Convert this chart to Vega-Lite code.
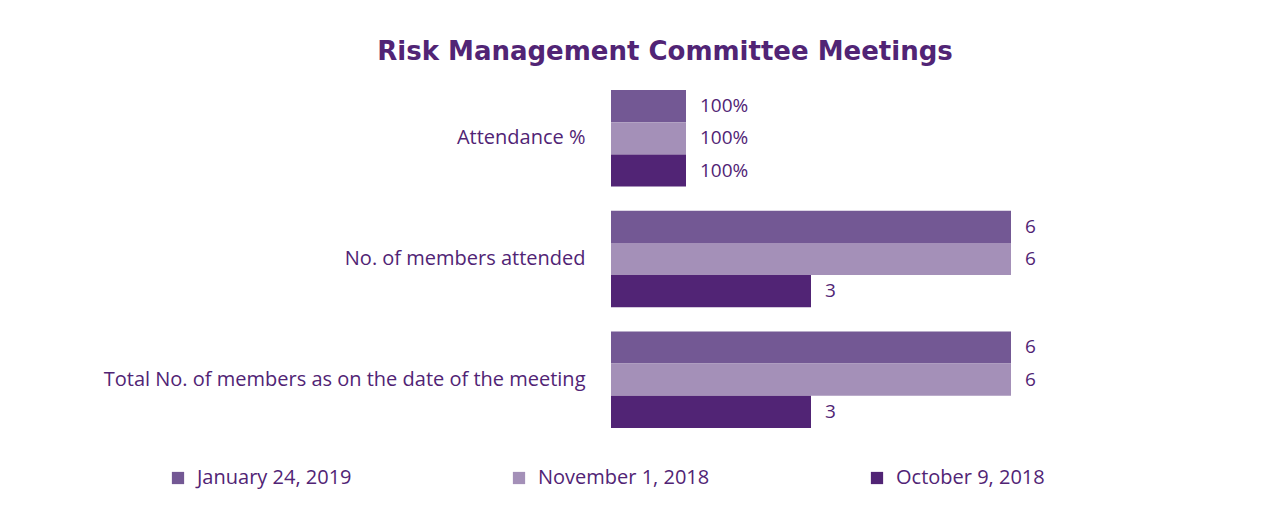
{
  "$schema": "https://vega.github.io/schema/vega-lite/v6.json",
  "autosize": {"type": "none"},
  "width": 400,
  "height": 362,
  "padding": {"left": 611, "top": 78, "right": 264, "bottom": 73},
  "background": "white",
  "title": {
    "text": "Risk Management Committee Meetings",
    "font": "DejaVu Sans",
    "fontSize": 26,
    "fontWeight": "bold",
    "color": "#512475",
    "anchor": "middle",
    "frame": "group",
    "dx": -146,
    "offset": 13
  },
  "data": {
    "values": [
      {"category": "Attendance %", "date": "January 24, 2019", "value": 1.125, "label": "100%"},
      {"category": "Attendance %", "date": "November 1, 2018", "value": 1.125, "label": "100%"},
      {"category": "Attendance %", "date": "October 9, 2018", "value": 1.125, "label": "100%"},
      {"category": "No. of members attended", "date": "January 24, 2019", "value": 6, "label": "6"},
      {"category": "No. of members attended", "date": "November 1, 2018", "value": 6, "label": "6"},
      {"category": "No. of members attended", "date": "October 9, 2018", "value": 3, "label": "3"},
      {"category": "Total No. of members as on the date of the meeting", "date": "January 24, 2019", "value": 6, "label": "6"},
      {"category": "Total No. of members as on the date of the meeting", "date": "November 1, 2018", "value": 6, "label": "6"},
      {"category": "Total No. of members as on the date of the meeting", "date": "October 9, 2018", "value": 3, "label": "3"}
    ]
  },
  "encoding": {
    "y": {
      "field": "category",
      "type": "nominal",
      "sort": ["Attendance %", "No. of members attended", "Total No. of members as on the date of the meeting"],
      "scale": {"paddingInner": 0.2, "paddingOuter": 0.1},
      "axis": {
        "title": null,
        "ticks": false,
        "domain": false,
        "labelPadding": 26,
        "labelFont": "Open Sans",
        "labelFontSize": 20,
        "labelColor": "#512475",
        "labelLimit": 700
      }
    },
    "yOffset": {
      "field": "date",
      "type": "nominal",
      "sort": ["January 24, 2019", "November 1, 2018", "October 9, 2018"]
    },
    "x": {
      "field": "value",
      "type": "quantitative",
      "scale": {"domain": [0, 6], "nice": false},
      "axis": null
    }
  },
  "layer": [
    {
      "mark": {"type": "bar"},
      "encoding": {
        "color": {
          "field": "date",
          "type": "nominal",
          "sort": ["January 24, 2019", "November 1, 2018", "October 9, 2018"],
          "scale": {
            "domain": ["January 24, 2019", "November 1, 2018", "October 9, 2018"],
            "range": ["#735894", "#a490b8", "#512475"]
          },
          "legend": {
            "title": null,
            "orient": "none",
            "direction": "horizontal",
            "columns": 3,
            "legendX": -443,
            "legendY": 390,
            "symbolType": "square",
            "symbolSize": 150,
            "symbolStrokeWidth": 0,
            "symbolOpacity": 1,
            "labelFont": "Open Sans",
            "labelFontSize": 20,
            "labelColor": "#512475",
            "labelOffset": 9,
            "columnPadding": 157,
            "labelLimit": 300
          }
        }
      }
    },
    {
      "mark": {
        "type": "text",
        "align": "left",
        "baseline": "middle",
        "dx": 14,
        "font": "Open Sans",
        "fontSize": 19,
        "color": "#512475"
      },
      "encoding": {
        "text": {"field": "label", "type": "nominal"}
      }
    }
  ],
  "config": {
    "view": {"stroke": null}
  }
}
